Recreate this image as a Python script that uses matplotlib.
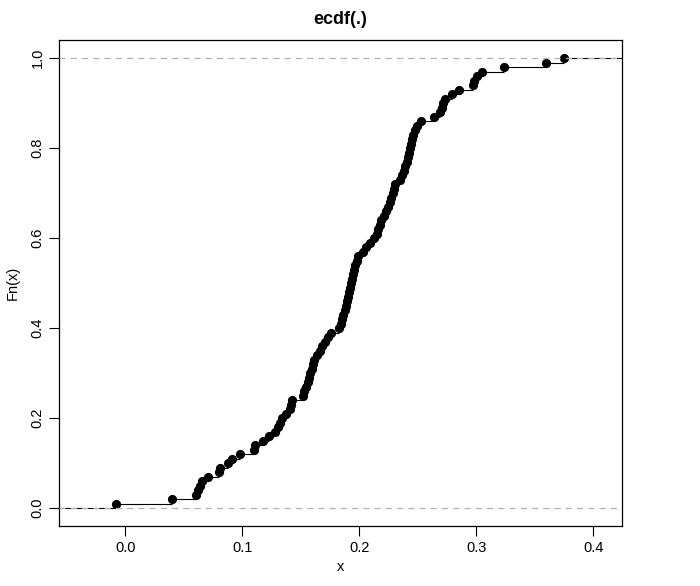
import numpy as np
import matplotlib
matplotlib.use('Agg')
import matplotlib.pyplot as plt

plt.rcParams['font.family'] = ['Liberation Sans', 'DejaVu Sans']

# sorted sample values (100 obs, each jump = 0.01)
x_vals = [
    -0.0079, 0.0399, 0.0604, 0.0621, 0.0638, 0.0656, 0.0707, 0.0801, 0.0809, 0.0878,
    0.0912, 0.0980, 0.1100, 0.1109, 0.1177, 0.1228, 0.1279, 0.1305, 0.1322, 0.1339,
    0.1374, 0.1408, 0.1416, 0.1425, 0.1519, 0.1532, 0.1544, 0.1562, 0.1570, 0.1579,
    0.1596, 0.1604, 0.1613, 0.1638, 0.1664, 0.1681, 0.1707, 0.1732, 0.1758, 0.1826,
    0.1844, 0.1852, 0.1865, 0.1878, 0.1891, 0.1899, 0.1908, 0.1916, 0.1925, 0.1929,
    0.1938, 0.1946, 0.1955, 0.1963, 0.1980, 0.1993, 0.2032, 0.2057, 0.2091, 0.2126,
    0.2151, 0.2164, 0.2177, 0.2190, 0.2211, 0.2232, 0.2250, 0.2262, 0.2275, 0.2288,
    0.2297, 0.2305, 0.2348, 0.2365, 0.2382, 0.2395, 0.2408, 0.2416, 0.2425, 0.2433,
    0.2442, 0.2450, 0.2463, 0.2476, 0.2493, 0.2527, 0.2638, 0.2690, 0.2706, 0.2718,
    0.2732, 0.2792, 0.2852, 0.2971, 0.2985, 0.3009, 0.3050, 0.3237, 0.3596, 0.3750,
]
x_ticks = [0.0, 0.1, 0.2, 0.3, 0.4]
y_ticks = [0.0, 0.2, 0.4, 0.6, 0.8, 1.0]

x = np.array(x_vals)
n = len(x)
fn = np.arange(1, n + 1) / n

xlim = (-0.0564, 0.4243)
ylim = (-0.04, 1.04)

fig = plt.figure(figsize=(7.0, 5.86), dpi=100)
ax = fig.add_axes([0.0847, 0.1024, 0.8033, 0.8288])

# step function: horizontal segments from each point to the next
xs = np.concatenate([[xlim[0]], x, [xlim[1]]])
ys = np.concatenate([[0.0], fn, [1.0]])
for i in range(len(xs) - 1):
    ax.plot([xs[i], xs[i + 1]], [ys[i], ys[i]], color='black', lw=0.8,
            solid_capstyle='butt', zorder=2)

ax.plot(x, fn, 'o', color='black', ms=5.6, zorder=3)

ax.axhline(0, color='#b3b3b3', lw=0.9, ls=(0, (5, 4)), zorder=4)
ax.axhline(1, color='#b3b3b3', lw=0.9, ls=(0, (5, 4)), zorder=4)

ax.set_xlim(*xlim)
ax.set_ylim(*ylim)
ax.set_xticks(x_ticks)
ax.set_xticklabels(['%.1f' % v for v in x_ticks])
ax.set_yticks(y_ticks)
ax.set_yticklabels(['%.1f' % v for v in y_ticks], rotation=90, va='center')
ax.tick_params(direction='out', length=7.5, width=0.8, labelsize=10.5, pad=3)

for s in ax.spines.values():
    s.set_linewidth(0.9)

ax.set_title('ecdf(.)', fontsize=13, fontweight='bold', pad=12)
ax.set_xlabel('x', fontsize=10.5, labelpad=4)
ax.set_ylabel('Fn(x)', fontsize=10.5, labelpad=8)

fig.savefig('out.png', dpi=100)
